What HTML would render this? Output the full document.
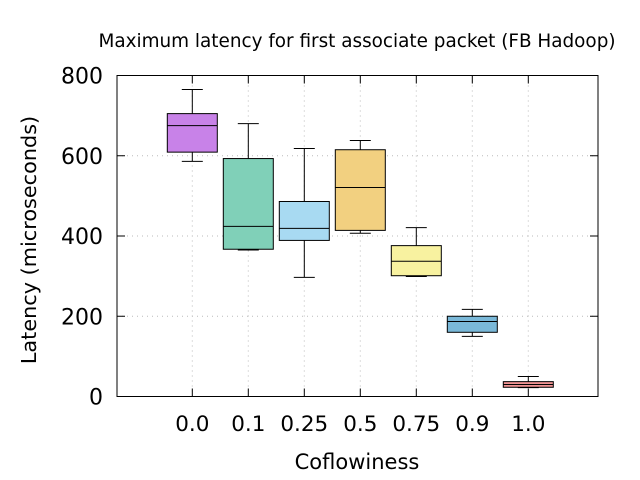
<!DOCTYPE html>
<html><head><meta charset="utf-8"><style>
body{margin:0;background:#fff;}
svg{display:block;font-family:"DejaVu Sans","Liberation Sans",sans-serif;}
</style></head><body>
<svg id="chart" width="640" height="480">
<text x="357" y="47" text-anchor="middle" font-size="18.4">Maximum latency for first associate packet (FB Hadoop)</text>
<text x="357" y="469" text-anchor="middle" font-size="21">Coflowiness</text>
<text transform="translate(36,240) rotate(-90)" text-anchor="middle" font-size="20.8">Latency (microseconds)</text>
<g id="grid"></g><g id="boxes"></g><g id="axes"></g>
</svg>
<script>
const categories=["0.0","0.1","0.25","0.5","0.75","0.9","1.0"];
const whiskerLow=[586,365,297,407,299,150,22];
const q1=[609,367,389,414,301,160,23];
const medians=[675,424,419,521,337,187,30];
const q3=[705,593,486,615,376,200,37];
const whiskerHigh=[765,680,618,638,421,217,50];
const colors=["#c882e8","#80d0b8","#a8daf2","#f2d080","#f8f2a0","#7ab8d8","#f09494"];
const yTicks=[0,200,400,600,800];
const L=117,R=598,T=75.5,B=396.5;
const NS="http://www.w3.org/2000/svg";
const y=v=>B-(v/800)*(B-T);
const x=i=>192.3+i*56;
function mk(tag,at,p){const e=document.createElementNS(NS,tag);for(const k in at)e.setAttribute(k,at[k]);p.appendChild(e);return e;}
const grid=document.getElementById('grid'),boxes=document.getElementById('boxes'),axes=document.getElementById('axes');
yTicks.forEach(t=>{
 if(t>0&&t<800){const g=mk('line',{x1:L,x2:R,y1:y(t),y2:y(t),stroke:'#bbb','stroke-dasharray':'1,4'},grid);
 
 }
 const tk=mk('line',{x1:L,x2:L+8,y1:y(t),y2:y(t),stroke:'#000'},axes);
 
 
 const tk2=mk('line',{x1:R-8,x2:R,y1:y(t),y2:y(t),stroke:'#000'},axes);
 
 
 const lb=mk('text',{x:L-14,y:y(t)+8,'text-anchor':'end','font-size':22},axes);
 lb.textContent=t;
 
 
});
categories.forEach((c,i)=>{
 const g=mk('line',{x1:x(i),x2:x(i),y1:T,y2:B,stroke:'#bbb','stroke-dasharray':'1,4'},grid);
 
 
 const tk=mk('line',{x1:x(i),x2:x(i),y1:B-8,y2:B,stroke:'#000'},axes);
 
 
 const tk2=mk('line',{x1:x(i),x2:x(i),y1:T,y2:T+8,stroke:'#000'},axes);
 
 
 const lb=mk('text',{x:x(i),y:431,'text-anchor':'middle','font-size':21.5},axes);
 lb.textContent=c;
 
 
 const grp=mk('g',{},boxes);
 
 
 const hw=25,cw=10.5;
 mk('line',{x1:x(i),x2:x(i),y1:y(whiskerHigh[i]),y2:y(q3[i]),stroke:'#000','stroke-width':1},grp);
 mk('line',{x1:x(i),x2:x(i),y1:y(q1[i]),y2:y(whiskerLow[i]),stroke:'#000','stroke-width':1},grp);
 mk('line',{x1:x(i)-cw,x2:x(i)+cw,y1:y(whiskerHigh[i]),y2:y(whiskerHigh[i]),stroke:'#000'},grp);
 mk('line',{x1:x(i)-cw,x2:x(i)+cw,y1:y(whiskerLow[i]),y2:y(whiskerLow[i]),stroke:'#000'},grp);
 mk('rect',{x:x(i)-hw,y:y(q3[i]),width:2*hw,height:y(q1[i])-y(q3[i]),fill:colors[i],stroke:'#000','stroke-width':1},grp);
 mk('line',{x1:x(i)-hw,x2:x(i)+hw,y1:y(medians[i]),y2:y(medians[i]),stroke:'#000'},grp);
});
const fr=mk('rect',{x:L,y:T,width:R-L,height:B-T,fill:'none',stroke:'#000','stroke-width':1},axes);


</script>
</body></html>
